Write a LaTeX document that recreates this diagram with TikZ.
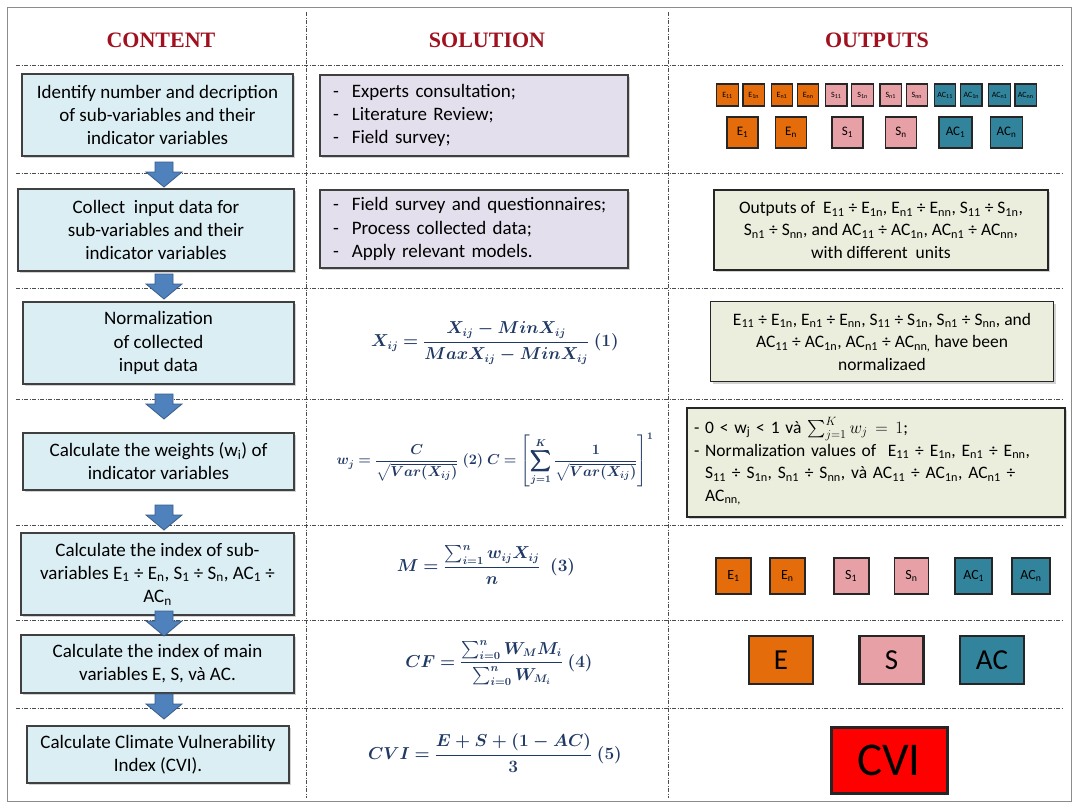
\documentclass[tikz,border=0pt]{standalone}
\usepackage{amsmath}
\usepackage{bm}
\usepackage[no-math]{fontspec}
\setmainfont{Carlito}
\newfontfamily\headfont{Liberation Serif}
\usepackage{xcolor}
\definecolor{headred}{HTML}{A0101E}
\definecolor{contfill}{HTML}{DBEEF4}
\definecolor{solfill}{HTML}{E4DFEC}
\definecolor{outfill}{HTML}{ECEEDD}
\definecolor{boxline}{HTML}{404040}
\definecolor{arrfill}{HTML}{4F81BD}
\definecolor{arrline}{HTML}{385D8A}
\definecolor{eqblue}{HTML}{1F3864}
\definecolor{efill}{HTML}{E46C0A}
\definecolor{sfill}{HTML}{E6A0A6}
\definecolor{acfill}{HTML}{31849B}
\definecolor{cvifill}{HTML}{FF0000}
\usetikzlibrary{positioning,calc,shadows}
\newcommand{\sbs}[1]{\textsubscript{#1}}

\begin{document}
\begin{tikzpicture}[
  x=1pt,y=-1pt,
  font=\fontsize{19}{23.2}\selectfont,
  head/.style={font=\headfont\bfseries\fontsize{22}{24}\selectfont,text=headred},
  sep/.style={black!70,line width=.8pt,dash pattern=on 4pt off 1.5pt on 1pt off 1.5pt},
  content/.style={draw=boxline,line width=1.2pt,fill=contfill,align=center,inner sep=2pt,
    drop shadow={shadow xshift=2pt,shadow yshift=-2pt,opacity=.35}},
  solution/.style={draw=boxline,line width=1.2pt,fill=solfill,align=left,inner ysep=2pt,
    drop shadow={shadow xshift=2pt,shadow yshift=-2pt,opacity=.35}},
  output/.style={draw=black!85,line width=1.2pt,fill=outfill,align=center,inner sep=2pt,
    font=\fontsize{17.5}{22.5}\selectfont,
    drop shadow={shadow xshift=2pt,shadow yshift=-2pt,opacity=.35}},
  eq/.style={text=eqblue,font=\fontsize{16.2}{19}\selectfont},
  blockarr/.style={draw=arrline,fill=arrfill,line width=.8pt,line join=miter},
  ebox/.style={draw=black!85,fill=efill},
  sbox/.style={draw=black!85,fill=sfill},
  acbox/.style={draw=black!85,fill=acfill},
  cellxs/.style={line width=1.2pt,inner sep=0pt,minimum width=21.5pt,minimum height=22pt,
    font=\fontsize{8}{8}\selectfont},
  cellsm/.style={line width=1.5pt,inner sep=0pt,minimum width=31pt,minimum height=31pt,
    font=\fontsize{13}{13}\selectfont},
  cellmd/.style={line width=1.8pt,inner sep=0pt,minimum width=35pt,minimum height=36pt,
    font=\fontsize{14}{14}\selectfont},
  celllg/.style={line width=2.5pt,inner sep=0pt,minimum width=64pt,minimum height=48pt,
    font=\fontsize{29}{29}\selectfont}
]
\fill[white] (0,0) rectangle (1078,806);
\useasboundingbox (0,0) rectangle (1078,806);
\draw[black!45,line width=1pt] (7,7) rectangle (1071,801);
% grid lines
\draw[sep] (306,12) -- (306,798);
\draw[sep] (668,12) -- (668,798);
\draw[sep] (16,65) -- (1064,65);
\draw[sep] (16,173) -- (1064,173);
\draw[sep] (16,288) -- (1064,288);
\draw[sep] (16,399) -- (1064,399);
\draw[sep] (16,525) -- (1064,525);
\draw[sep] (16,620) -- (1064,620);
\draw[sep] (16,708) -- (1064,708);
% headings
\node[head] (hcont) at (161,40) {CONTENT};
\node[head] (hsol) at (487,40) {SOLUTION};
\node[head] (hout) at (877,40) {OUTPUTS};
% Content column
\node[content,minimum width=271pt,minimum height=82pt] (c1) at (157.5,115)
  {Identify number and decription\\of sub-variables and their\\indicator variables};
\node[content,minimum width=276pt,minimum height=82pt] (c2) at (156,230)
  {Collect\ \ input data for\\sub-variables and their\\indicator variables};
\node[content,minimum width=271pt,minimum height=82pt] (c3) at (158.5,343)
  {Normalization\\of collected\\input data};
\node[content,minimum width=271pt,minimum height=57pt] (c4) at (158.5,461.5)
  {Calculate the weights (w\sbs{i}) of\\indicator variables};
\node[content,minimum width=273pt,minimum height=82pt] (c5) at (157.5,574)
  {Calculate the index of sub-\\variables E\sbs{1} ÷ E\sbs{n}, S\sbs{1} ÷ S\sbs{n}, AC\sbs{1} ÷\\AC\sbs{n}};
\node[content,minimum width=273pt,minimum height=58pt] (c6) at (157.5,664)
  {Calculate the index of main\\variables E, S, và AC.};
\node[content,minimum width=262pt,minimum height=57pt] (c7) at (158,754.5)
  {Calculate Climate Vulnerability\\Index (CVI).};
% block arrows between the content boxes
\foreach \ay in {162,274,394,505,611,694}
  \draw[blockarr] (164,\ay) -- ++(9,0) -- ++(0,10) -- ++(9,0) -- ++(-18,15)
    -- ++(-18,-15) -- ++(9,0) -- ++(0,-10) -- cycle;
% Solution column
\node[solution,inner xsep=13pt,text width=282pt,minimum height=81pt] (s1) at (474,115.5)
  {-\hspace{13pt}Experts consultation;\\-\hspace{13pt}Literature Review;\\-\hspace{13pt}Field survey;};
\node[solution,inner xsep=13pt,text width=282pt,minimum height=78pt] (s2) at (474,229)
  {-\hspace{13pt}Field survey and questionnaires;\\-\hspace{13pt}Process collected data;\\-\hspace{13pt}Apply relevant models.};
\node[eq] (eq1) at (495,343)
  {$\bm{X_{ij}=\dfrac{X_{ij}-MinX_{ij}}{MaxX_{ij}-MinX_{ij}}}\;\bm{(1)}$};
\node[eq,font=\fontsize{14.6}{17}\selectfont] (eq2) at (495,460)
  {$\displaystyle\bm{w_j=\frac{C}{\sqrt{Var(X_{ij})}}}\;\bm{(2)}\;
    \bm{C=\left[\sum_{j=1}^{K}\frac{1}{\sqrt{Var(X_{ij})}}\right]^{1}}$};
\node[eq] (eq3) at (486,565)
  {$\bm{M=\dfrac{\sum_{i=1}^{n}w_{ij}X_{ij}}{n}}\;\;\bm{(3)}$};
\node[eq] (eq4) at (499,663)
  {$\bm{CF=\dfrac{\sum_{i=0}^{n}W_{M}M_{i}}{\sum_{i=0}^{n}W_{M_{i}}}}\;\bm{(4)}$};
\node[eq] (eq5) at (495,753)
  {$\bm{CVI=\dfrac{E+S+(1-AC)}{3}}\;\bm{(5)}$};
% Outputs column
\node[ebox,cellxs] (e11) at (727.5,95) {E\sbs{11}};
\node[ebox,cellxs,right=3.5pt of e11] (e1n) {E\sbs{1n}};
\node[ebox,cellxs,right=5.5pt of e1n] (en1) {E\sbs{n1}};
\node[ebox,cellxs,right=3.5pt of en1] (enn) {E\sbs{nn}};
\node[sbox,cellxs,right=5.5pt of enn] (s11) {S\sbs{11}};
\node[sbox,cellxs,right=3.5pt of s11] (s1n) {S\sbs{1n}};
\node[sbox,cellxs,right=5.5pt of s1n] (sn1) {S\sbs{n1}};
\node[sbox,cellxs,right=3.5pt of sn1] (snn) {S\sbs{nn}};
\node[acbox,cellxs,right=5.5pt of snn] (ac11) {AC\sbs{11}};
\node[acbox,cellxs,right=3.5pt of ac11] (ac1n) {AC\sbs{1n}};
\node[acbox,cellxs,right=5.5pt of ac1n] (acn1) {AC\sbs{n1}};
\node[acbox,cellxs,right=3.5pt of acn1] (acnn) {AC\sbs{nn}};
\node[ebox,cellsm] (ea1) at (742.5,132.5) {E\sbs{1}};
\node[ebox,cellsm,right=16pt of ea1] (ean) {E\sbs{n}};
\node[sbox,cellsm,right=24pt of ean] (sa1) {S\sbs{1}};
\node[sbox,cellsm,right=21pt of sa1] (san) {S\sbs{n}};
\node[acbox,cellsm,minimum width=33pt,right=21pt of san] (aca1) {AC\sbs{1}};
\node[acbox,cellsm,minimum width=32pt,right=17pt of aca1] (acan) {AC\sbs{n}};
\node[output,minimum width=334pt,minimum height=80pt] (o2) at (881,230)
  {Outputs of\ \ E\sbs{11} ÷ E\sbs{1n}, E\sbs{n1} ÷ E\sbs{nn}, S\sbs{11} ÷ S\sbs{1n},\\
   S\sbs{n1} ÷ S\sbs{nn}, and AC\sbs{11} ÷ AC\sbs{1n}, AC\sbs{n1} ÷ AC\sbs{nn},\\
   with different\ \ units};
\node[output,minimum width=343pt,minimum height=80pt] (o3) at (882,341.5)
  {E\sbs{11} ÷ E\sbs{1n}, E\sbs{n1} ÷ E\sbs{nn}, S\sbs{11} ÷ S\sbs{1n}, S\sbs{n1} ÷ S\sbs{nn}, and\\
   AC\sbs{11} ÷ AC\sbs{1n}, AC\sbs{n1} ÷ AC\sbs{nn,} have been\\normalizaed};
\node[output,align=left,inner xsep=7pt,text width=364pt,minimum height=109pt] (o4) at (876,462.5)
  {\begin{tabular}{@{}l@{\ }l@{}}
   - & 0 < w\sbs{j} < 1 và $\sum_{j=1}^{K}w_j\,=\,1$;\\
   - & Normalization values of\ \ E\sbs{11} ÷ E\sbs{1n}, E\sbs{n1} ÷ E\sbs{nn},\\
     & S\sbs{11} ÷ S\sbs{1n}, S\sbs{n1} ÷ S\sbs{nn}, và AC\sbs{11} ÷ AC\sbs{1n}, AC\sbs{n1} ÷\\
     & AC\sbs{nn,}
   \end{tabular}};
\node[ebox,cellmd] (eb1) at (733.5,576) {E\sbs{1}};
\node[ebox,cellmd,right=17pt of eb1] (ebn) {E\sbs{n}};
\node[sbox,cellmd,right=27pt of ebn] (sb1) {S\sbs{1}};
\node[sbox,cellmd,minimum width=34pt,right=24pt of sb1] (sbn) {S\sbs{n}};
\node[acbox,cellmd,minimum width=37pt,right=25pt of sbn] (acb1) {AC\sbs{1}};
\node[acbox,cellmd,minimum width=38pt,right=18pt of acb1] (acbn) {AC\sbs{n}};
\node[ebox,celllg] (e) at (781,660) {E};
\node[sbox,celllg,right=44pt of e] (s) {S};
\node[acbox,celllg,right=34pt of s] (ac) {AC};
\node[draw=black!85,fill=cvifill,line width=3pt,minimum width=116pt,minimum height=66pt,
  font=\fontsize{47}{47}\selectfont] (cvi) at (889,760) {CVI};
\end{tikzpicture}
\end{document}
